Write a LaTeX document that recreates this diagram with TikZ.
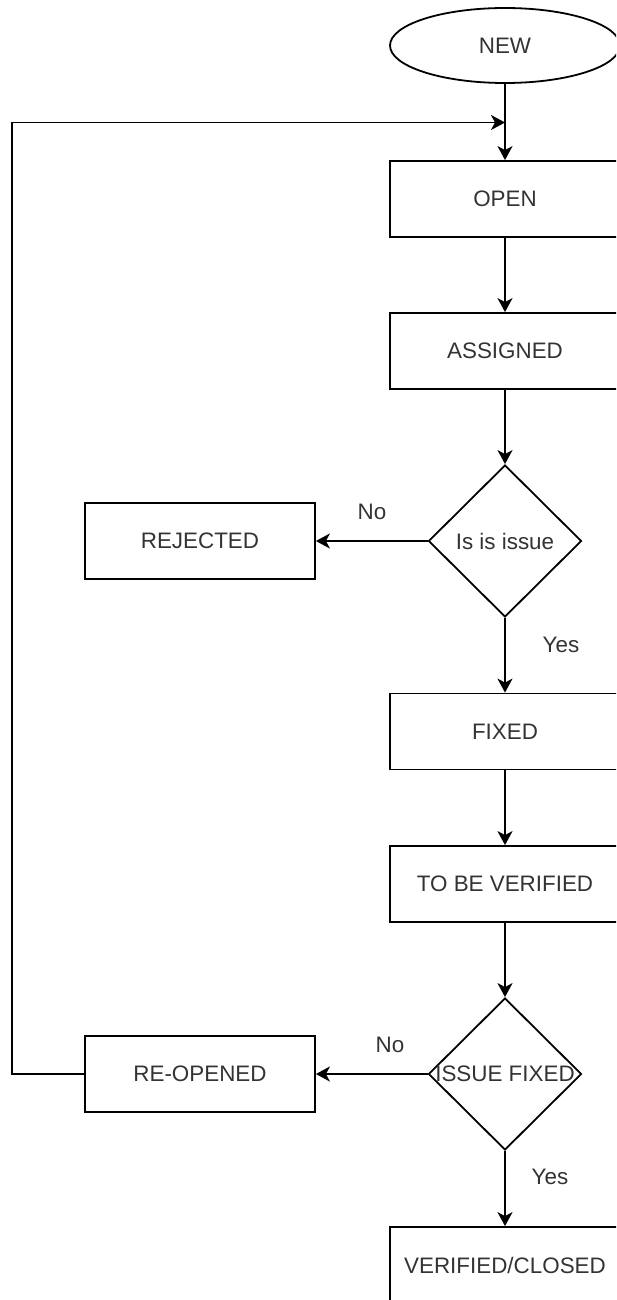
\documentclass[tikz,border=0pt]{standalone}
\usepackage{fontspec}
\setmainfont{Liberation Sans}
\usetikzlibrary{shapes.geometric,arrows.meta}
\begin{document}
\begin{tikzpicture}[x=1pt,y=-1pt,
  txt/.style={font=\fontsize{22.4}{26}\selectfont, text=black!80},
  box/.style={txt, draw=black, line width=1.8pt, minimum width=230pt, minimum height=76pt, inner sep=0pt},
  oval/.style={txt, ellipse, draw=black, line width=1.8pt, minimum width=230pt, minimum height=75pt, inner sep=0pt},
  decision/.style={txt, diamond, draw=black, line width=1.8pt, minimum width=153pt, minimum height=152pt, inner sep=0pt},
  lbl/.style={txt, inner sep=0pt},
  arr/.style={draw=black, line width=1.8pt, -{Stealth[length=14pt,width=15pt,inset=4pt]}},
  ln/.style={draw=black, line width=1.8pt}]
\useasboundingbox (0,0) rectangle (616,1300);
\clip (0,0) rectangle (616,1300);
% nodes
\node[oval] (new) at (505,45.5) {NEW};
\node[box] (open) at (505,199) {OPEN};
\node[box] (assigned) at (505,351) {ASSIGNED};
\node[decision] (isissue) at (505,541) {\makebox[0pt]{Is is issue}};
\node[box] (rejected) at (200,541) {REJECTED};
\node[box] (fixed) at (505,731.5) {FIXED};
\node[box] (tobeverified) at (505,884) {TO BE VERIFIED};
\node[decision] (issuefixed) at (505,1074) {\makebox[0pt]{ISSUE FIXED}};
\node[box] (reopened) at (200,1074) {RE-OPENED};
\node[box] (closed) at (505,1265) {VERIFIED/CLOSED};
% labels
\node[lbl] (no1) at (372,512) {No};
\node[lbl] (yes1) at (561,645) {Yes};
\node[lbl] (no2) at (390,1045) {No};
\node[lbl] (yes2) at (550,1177) {Yes};
% helper coordinates
\coordinate (join) at (505,122.5);
\coordinate (c1) at (12,1074);
\coordinate (c2) at (12,122.5);
% connectors
\draw[arr] (new) -- (open);
\draw[arr] (open) -- (assigned);
\draw[arr] (assigned) -- (isissue);
\draw[arr] (isissue) -- (rejected);
\draw[arr] (isissue) -- (fixed);
\draw[arr] (fixed) -- (tobeverified);
\draw[arr] (tobeverified) -- (issuefixed);
\draw[arr] (issuefixed) -- (reopened);
\draw[arr] (issuefixed) -- (closed);
\draw[arr] (reopened.west) -- (c1) -- (c2) -- (join);
\end{tikzpicture}
\end{document}
